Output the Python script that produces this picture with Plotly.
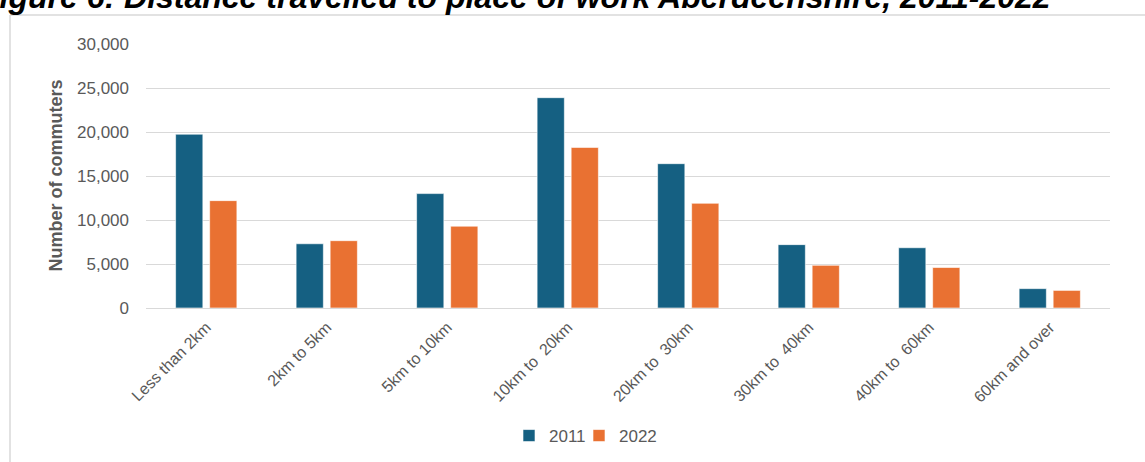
import plotly.graph_objects as go

# Commuting distance bands and commuter counts
categories = ["Less than 2km", "2km to 5km", "5km to 10km", "10km to  20km",
              "20km to  30km", "30km to  40km", "40km to  60km", "60km and over"]
commuters_2011 = [19750, 7300, 13000, 23900, 16400, 7200, 6850, 2200]
commuters_2022 = [12200, 7650, 9300, 18250, 11900, 4850, 4600, 2000]
y_ticks = [0, 5000, 10000, 15000, 20000, 25000, 30000]

W, H = 1145, 462
L, R, T, B = 146, 35, 44, 154
PW, PH = W - L - R, H - T - B


def px_x(x):
    return (x - L) / PW


def px_y(y):
    return (H - B - y) / PH


FONT = "Arial, Liberation Sans, sans-serif"
GREY = "#595959"
GRID = "#d9d9d9"

fig = go.Figure()
fig.add_trace(go.Bar(
    name="2011", x=categories, y=commuters_2011, legend="legend",
    marker=dict(color="#156082", line=dict(color="rgba(255,255,255,0.6)", width=1)),
))
fig.add_trace(go.Bar(
    name="2022", x=categories, y=commuters_2022, legend="legend2",
    marker=dict(color="#E97132", line=dict(color="rgba(255,255,255,0.6)", width=1)),
))

legend_style = dict(orientation="h", xanchor="left", y=px_y(436), yanchor="middle",
                    bgcolor="rgba(0,0,0,0)", font=dict(size=17, color=GREY))

fig.update_layout(
    width=W, height=H,
    margin=dict(l=L, r=R, t=T, b=B, autoexpand=False),
    paper_bgcolor="white", plot_bgcolor="white",
    barmode="group", bargap=0.435, bargroupgap=0.2,
    font=dict(family=FONT, color=GREY),
    showlegend=True,
    legend=dict(x=px_x(509), **legend_style),
    legend2=dict(x=px_x(579), **legend_style),
    xaxis=dict(tickangle=-45, tickfont=dict(size=16, color=GREY),
               showgrid=False, showline=False, ticks="", ticklabelstandoff=6),
    yaxis=dict(range=[0, 30000], tickvals=y_ticks, tickformat=",",
               tickfont=dict(size=17, color=GREY),
               showgrid=True, gridcolor=GRID, gridwidth=1.3,
               zeroline=True, zerolinecolor=GRID, zerolinewidth=1.3,
               showline=False, ticks="", ticklabelstandoff=16),
)

# Chart heading
fig.add_annotation(
    text="<b><i>Figure 6: Distance travelled to place of work Aberdeenshire, 2011-2022</i></b>",
    xref="paper", yref="paper", x=px_x(1053), y=px_y(17), xanchor="right", yanchor="bottom",
    showarrow=False, font=dict(family=FONT, size=32, color="black"),
)

# Vertical axis title
fig.add_annotation(
    text="<b>Number of commuters</b>", textangle=-90,
    xref="paper", yref="paper", x=px_x(55.5), y=0.5, xanchor="center", yanchor="middle",
    showarrow=False, font=dict(family=FONT, size=18, color=GREY),
)

# Chart frame (top and left edges)
fig.add_shape(type="line", xref="paper", yref="paper",
              x0=px_x(10), x1=px_x(W + 5), y0=px_y(15), y1=px_y(15),
              line=dict(color=GRID, width=1.5))
fig.add_shape(type="line", xref="paper", yref="paper",
              x0=px_x(10), x1=px_x(10), y0=px_y(15), y1=px_y(H + 5),
              line=dict(color=GRID, width=1.5))

fig.write_html("out.html")
